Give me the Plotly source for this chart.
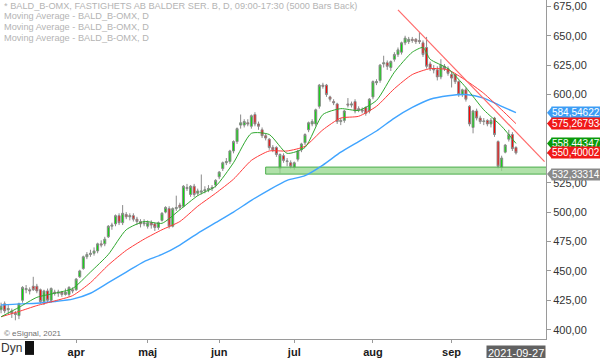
import pandas as pd
import plotly.graph_objects as go

# ---------------- data ----------------
holidays = ["2021-04-02", "2021-04-05", "2021-05-13", "2021-06-25"]
all_days = [d.strftime("%Y-%m-%d") for d in pd.bdate_range("2021-03-03", "2021-10-08")]
all_days = [d for d in all_days if d not in holidays]
dates = [d for d in all_days if d <= "2021-09-27"]

opens = [417,422,417,416,414,412,425,434,434,437,
         437,434,424,433,425,432,431,432,430,430,
         434,434,445,452,462,464,465,467,473,473,
         479,488,490,497,491,498,496,497,494,492,
         490,488,491,490,487,493,500,503,488,503,
         506,505,520,515,522,516,517,518,519,521,
         523,530,537,542,543,552,560,574,574,576,
         573,583,575,570,565,562,555,555,537,548,
         543,542,538,545,553,559,570,575,575,590,
         608,608,598,594,592,577,578,592,591,594,
         588,587,589,586,598,610,612,626,627,623,
         630,634,636,644,645,647,647,646,644,640,
         626,622,621,615,624,622,617,617,611,600,
         604,590,572,586,580,577,578,575,580,560,
         538,551,562,566,555]
highs = [423,424,421,418,416,423,437,438,436,445,
         439,435,434,435,436,434,434,433,435,437,
         436,444,451,463,466,468,470,474,476,479,
         489,491,498,499,506,500,499,499,496,494,
         494,493,493,491,492,500,505,505,504,514,
         508,523,524,523,524,520,532,522,523,523,
         528,535,543,546,553,561,572,583,579,579,
         583,585,577,572,567,563,557,556,550,550,
         546,544,543,553,559,567,577,579,588,609,
         610,609,599,596,593,580,587,597,594,596,
         590,589,590,597,612,613,626,633,629,629,
         636,640,645,650,649,649,648,653,646,649,
         628,625,624,630,626,624,619,618,612,605,
         606,591,587,588,582,580,579,580,581,561,
         548,558,570,568,556]
lows = [414,414,413,410,408,409,423,431,430,433,
        431,422,421,423,423,429,428,428,429,428,
        431,433,444,451,460,462,463,465,470,471,
        478,485,488,489,489,494,493,492,489,487,
        488,486,486,484,485,492,499,486,487,501,
        502,504,518,513,513,514,515,516,517,518,
        521,528,535,540,541,550,558,571,572,573,
        571,573,570,563,561,553,551,547,533,542,
        539,537,536,543,551,557,568,573,573,588,
        605,598,594,591,575,574,576,589,589,584,
        585,584,582,584,596,608,610,623,621,620,
        628,632,634,642,643,644,643,643,632,622,
        620,618,612,613,620,616,606,609,598,598,
        594,573,567,578,575,574,573,572,564,537,
        535,550,560,552,549]
closes = [420,416,418,414,413,422,436,435,433,434,
          433,424,433,425,435,431,432,430,432,436,
          433,443,450,462,464,465,467,473,472,477,
          488,489,497,491,499,496,497,494,492,490,
          491,491,489,487,491,499,504,488,503,504,
          504,522,521,522,515,518,518,519,520,520,
          527,534,542,543,552,560,571,576,577,575,
          582,575,573,565,563,555,553,549,549,544,
          543.5,539,542,552,558,566,576,577,587,608,
          607,600,596,593,577,578,586,591,592,586,
          587,586,584,596,611,611,625,627,624,628,
          634,638,644,648,647,646,645,645,634,624,
          622,621,615,625,622,618,614,611,600,604,
          596,575,586,580,577,577.5,575,578,566,539,
          546,557,566,554,550.40002]

# moving averages (bar index -> value)
ma_idx = [0,5,10,15,20,25,30,35,40,45,50,55,60,65,70,75,80,85,90,95,100,105,110,115,120,125,130,135,140,144]
ma_blue = [421,422,422.5,424,426,431,440,449,458,464,472,482,491,500,510,519,527,531,540,551,560,569,580,589,596,599,600,597,590,584.546223]
ma_red = [411,415.5,420.5,424.5,429,440,455,467.5,477,485,492,505,516,528,544,552,552,556,570,580,581.5,590,605,617,622,621,612,601,587,575.267934]
g_idx = [0,5,10,15,20,25,30,35,40,45,50,55,60,65,70,75,80,85,90,95,100,105,110,115,118,120,125,130,135,140,144]
ma_green = [411,419,427.5,431,435,449,464,485,492,490.5,502,514,522,542,567,566,550,555,583,588,586.5,595,619,636,640,630,622,606,587,573,558.443472]

trend_dates = ["2021-08-11", "2021-10-07"]
trend_prices = [672, 543]

support_dates = ["2021-06-18", "2021-10-08"]
support_low, support_high = 532.33314, 538.3

tag_values = [584.546223, 575.267934, 558.443472, 550.40002, 532.33314]
tag_colors = ["#3d9df5", "#f01818", "#0a9a0a", "#f01818", "#8a8a8a"]

month_ticks = ["2021-04-01", "2021-05-03", "2021-06-01", "2021-07-01", "2021-08-02", "2021-09-01"]
month_labels = ["apr", "maj", "jun", "jul", "aug", "sep"]
y_ticks = [400, 425, 450, 475, 500, 525, 550, 575, 600, 625, 650, 675]

legend_lines = ["* BALD_B-OMX, FASTIGHETS AB BALDER SER. B, D, 09:00-17:30 (5000 Bars Back)",
                "Moving Average - BALD_B-OMX, D",
                "Moving Average - BALD_B-OMX, D",
                "Moving Average - BALD_B-OMX, D"]

FONT = "Liberation Sans, Arial, sans-serif"

# ---------------- figure ----------------
fig = go.Figure()

# support band
fig.add_trace(go.Scatter(
    x=[support_dates[0], support_dates[1], support_dates[1], support_dates[0], support_dates[0]],
    y=[support_low, support_low, support_high, support_high, support_low],
    fill="toself", fillcolor="rgba(150,215,140,0.75)",
    line=dict(color="#4cae4c", width=1), mode="lines", hoverinfo="skip"))

fig.add_trace(go.Candlestick(
    x=dates, open=opens, high=highs, low=lows, close=closes,
    increasing=dict(fillcolor="#00e000", line=dict(color="#8a8a8a", width=1)),
    decreasing=dict(fillcolor="#ff0000", line=dict(color="#8a8a8a", width=1)),
    whiskerwidth=0))

fig.add_trace(go.Scatter(x=[dates[i] for i in ma_idx], y=ma_blue, mode="lines",
                         line=dict(color="#40a4ff", width=1.4, shape="spline", smoothing=0.6)))
fig.add_trace(go.Scatter(x=[dates[i] for i in ma_idx], y=ma_red, mode="lines",
                         line=dict(color="#ff3b3b", width=1, shape="spline", smoothing=0.6)))
fig.add_trace(go.Scatter(x=[dates[i] for i in g_idx], y=ma_green, mode="lines",
                         line=dict(color="#2fa82f", width=1, shape="spline", smoothing=0.6)))

fig.add_trace(go.Scatter(x=trend_dates, y=trend_prices, mode="lines",
                         line=dict(color="#ff6a6a", width=1.2)))

annotations = []
shapes = []
for v, c in zip(tag_values, tag_colors):
    annotations.append(dict(x=1, xref="paper", xanchor="left", xshift=5,
                            y=v, yref="y", yanchor="middle",
                            text=str(v).replace(".", ","), showarrow=False,
                            font=dict(family=FONT, size=10, color="white"),
                            bgcolor=c, borderpad=0))
    shapes.append(dict(type="path", xref="paper", yref="y",
                       path=f"M {1 + 1/546},{v} L {1 + 6/546},{v + 5.0} L {1 + 6/546},{v - 5.0} Z",
                       fillcolor=c, line=dict(width=0)))

for k, t in enumerate(legend_lines):
    annotations.append(dict(x=0, xref="paper", xanchor="left", xshift=2,
                            y=1, yref="paper", yanchor="middle", yshift=-(5.5 + 10.8 * k),
                            text=t, showarrow=False,
                            font=dict(family=FONT, size=9.2, color="#b4b4b4")))

annotations.append(dict(x=0, xref="paper", xanchor="left", xshift=2, y=0, yref="paper",
                        yanchor="middle", yshift=6, text="© eSignal, 2021", showarrow=False,
                        font=dict(family=FONT, size=8, color="#707070")))
annotations.append(dict(x=0, xref="paper", xanchor="left", xshift=-1, y=0, yref="paper",
                        yanchor="middle", yshift=-9, text="Dyn", showarrow=False,
                        font=dict(family=FONT, size=12, color="#333333")))
annotations.append(dict(x=dates[-1], xref="x", xanchor="center", y=0, yref="paper",
                        yanchor="top", yshift=-6, text="2021-09-27", showarrow=False,
                        font=dict(family=FONT, size=11, color="white"),
                        bgcolor="#616161", borderpad=1))

shapes.append(dict(type="rect", xref="paper", yref="paper",
                   x0=25/546, x1=34/546, y0=-16/341, y1=-2/341,
                   fillcolor="#111111", line=dict(width=0)))

fig.update_layout(
    width=600, height=358, autosize=False,
    margin=dict(l=0, r=54, t=0, b=17, pad=0),
    paper_bgcolor="white", plot_bgcolor="white",
    showlegend=False, separators=", ", boxgap=0.2,
    font=dict(family=FONT, size=11, color="#333333"),
    annotations=annotations, shapes=shapes,
    xaxis=dict(type="category", categoryorder="array", categoryarray=all_days,
               range=[-0.3, 152.4], rangeslider=dict(visible=False),
               tickmode="array", tickvals=month_ticks,
               ticktext=[f"<b>{m}</b>" for m in month_labels],
               tickfont=dict(family=FONT, size=11, color="#1a1a1a"),
               showline=True, linecolor="#9a9a9a", ticks="outside", ticklen=3,
               tickcolor="#9a9a9a", showgrid=False, zeroline=False),
    yaxis=dict(side="right", range=[392.1, 680.4], tickmode="array", tickvals=y_ticks,
               tickformat=".2f", showline=True, linecolor="#9a9a9a", ticks="outside",
               ticklen=4, tickcolor="#9a9a9a", showgrid=False, zeroline=False,
               tickfont=dict(family=FONT, size=11, color="#333333")),
)

fig.write_html("out.html", config={"displayModeBar": False},
               post_script="document.body.style.margin='0';document.body.style.overflow='hidden';")
